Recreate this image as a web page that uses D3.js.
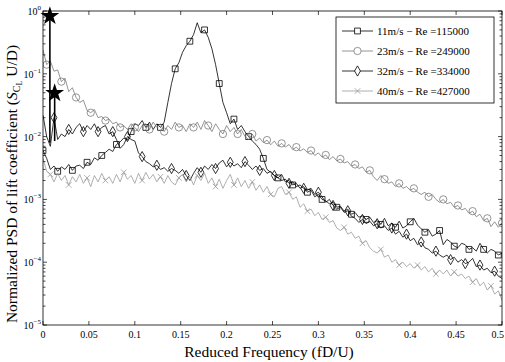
<!DOCTYPE html>
<html>
<head>
<meta charset="utf-8">
<script src="https://cdn.jsdelivr.net/npm/d3@7"></script>
<style>
  body { margin: 0; background: #fff; }
  svg { font-family: "Liberation Serif", "DejaVu Serif", serif; }
</style>
</head>
<body>
<div id="graph"></div>
<script>

    // frequency grid (fD/U), one value every 0.004
    const freq = d3.range(126).map((i) => +(i * 0.004).toFixed(3));

    const psd11 = [6.0e-3, 4.5e-3, 3.0e-3, 3.4e-3, 2.8e-3, 3.3e-3, 3.0e-3, 3.6e-3, 2.9e-3, 3.4e-3,
        3.5e-3, 3.1e-3, 3.9e-3, 3.6e-3, 4.6e-3, 4.2e-3, 5.0e-3, 5.6e-3, 6.3e-3, 5.8e-3,
        7.5e-3, 8.2e-3, 9.5e-3, 8.8e-3, 1.2e-2, 1.6e-2, 1.5e-2, 1.8e-2, 1.4e-2, 1.7e-2,
        1.3e-2, 1.6e-2, 1.4e-2, 1.7e-2, 3.5e-2, 7.0e-2, 1.2e-1, 1.5e-1, 2.2e-1, 2.8e-1,
        3.3e-1, 4.2e-1, 6.5e-1, 4.5e-1, 5.0e-1, 3.8e-1, 2.5e-1, 1.4e-1, 7.0e-2, 3.5e-2,
        2.4e-2, 1.6e-2, 1.9e-2, 1.3e-2, 1.5e-2, 1.2e-2, 1.0e-2, 8.5e-3, 7.5e-3, 6.3e-3,
        4.5e-3, 3.0e-3, 2.7e-3, 2.4e-3, 2.2e-3, 2.5e-3, 1.9e-3, 2.0e-3, 1.7e-3, 1.8e-3,
        1.5e-3, 1.6e-3, 1.3e-3, 1.4e-3, 1.1e-3, 1.2e-3, 1.0e-3, 9.5e-4, 8.5e-4, 9.0e-4,
        7.5e-4, 7.8e-4, 6.5e-4, 7.0e-4, 5.8e-4, 6.2e-4, 5.2e-4, 5.5e-4, 4.8e-4, 5.2e-4,
        4.3e-4, 4.6e-4, 4.0e-4, 5.0e-4, 3.8e-4, 4.2e-4, 3.6e-4, 4.5e-4, 3.5e-4, 3.8e-4,
        4.4e-4, 5.0e-4, 3.9e-4, 3.4e-4, 3.0e-4, 3.3e-4, 2.6e-4, 2.8e-4, 3.2e-4, 1.9e-4,
        2.3e-4, 2.1e-4, 1.8e-4, 1.7e-4, 2.0e-4, 1.9e-4, 1.6e-4, 1.7e-4, 1.5e-4, 2.0e-4,
        1.6e-4, 1.4e-4, 1.6e-4, 1.5e-4, 1.3e-4, 1.4e-4];

    const psd23 = [2.4e-1, 1.4e-1, 1.6e-1, 1.1e-1, 1.15e-1, 7.5e-2, 8.5e-2, 5.2e-2, 6.0e-2, 4.2e-2,
        3.5e-2, 3.8e-2, 2.6e-2, 2.4e-2, 2.7e-2, 2.0e-2, 2.1e-2, 1.8e-2, 1.9e-2, 1.6e-2,
        1.7e-2, 1.4e-2, 1.5e-2, 1.3e-2, 1.6e-2, 1.4e-2, 1.2e-2, 1.5e-2, 1.6e-2, 1.3e-2,
        1.7e-2, 1.4e-2, 1.6e-2, 1.2e-2, 1.5e-2, 1.3e-2, 1.7e-2, 1.4e-2, 1.5e-2, 1.2e-2,
        1.6e-2, 1.4e-2, 1.7e-2, 1.3e-2, 1.8e-2, 1.5e-2, 1.2e-2, 1.6e-2, 1.3e-2, 1.1e-2,
        1.5e-2, 1.2e-2, 1.4e-2, 1.1e-2, 1.3e-2, 1.0e-2, 9.0e-3, 1.1e-2, 8.5e-3, 9.5e-3,
        8.0e-3, 8.8e-3, 7.4e-3, 8.5e-3, 7.0e-3, 7.8e-3, 6.8e-3, 7.5e-3, 6.2e-3, 6.8e-3,
        5.9e-3, 6.4e-3, 5.6e-3, 6.0e-3, 5.0e-3, 5.5e-3, 4.7e-3, 5.1e-3, 4.3e-3, 4.8e-3,
        4.1e-3, 4.4e-3, 3.8e-3, 4.0e-3, 3.4e-3, 3.6e-3, 3.1e-3, 3.3e-3, 2.7e-3, 2.9e-3,
        2.3e-3, 2.0e-3, 2.4e-3, 2.1e-3, 1.8e-3, 1.9e-3, 1.6e-3, 1.8e-3, 1.5e-3, 1.6e-3,
        1.4e-3, 1.5e-3, 1.3e-3, 1.2e-3, 1.3e-3, 1.1e-3, 1.2e-3, 1.0e-3, 9.0e-4, 1.0e-3,
        8.5e-4, 9.0e-4, 7.5e-4, 8.0e-4, 6.8e-4, 7.2e-4, 6.0e-4, 6.5e-4, 5.3e-4, 5.8e-4,
        4.6e-4, 5.0e-4, 3.7e-4, 4.4e-4, 3.6e-4, 4.2e-4];

    const psd32 = [2.2e-2, 1.0e-2, 7.0e-3, 2.0e-2, 9.0e-3, 1.1e-2, 1.0e-2, 1.3e-2, 1.1e-2, 1.4e-2,
        1.6e-2, 1.2e-2, 1.5e-2, 1.3e-2, 1.6e-2, 1.2e-2, 1.4e-2, 1.5e-2, 1.1e-2, 1.2e-2,
        9.0e-3, 6.5e-3, 7.5e-3, 1.0e-2, 9.0e-3, 8.5e-3, 5.5e-3, 4.8e-3, 4.0e-3, 3.7e-3,
        3.3e-3, 3.5e-3, 3.0e-3, 3.2e-3, 2.8e-3, 3.1e-3, 2.9e-3, 2.6e-3, 3.0e-3, 2.4e-3,
        2.0e-3, 2.6e-3, 3.2e-3, 2.7e-3, 3.4e-3, 3.0e-3, 3.6e-3, 3.1e-3, 3.8e-3, 4.2e-3,
        3.3e-3, 3.9e-3, 3.4e-3, 3.7e-3, 3.2e-3, 4.0e-3, 3.5e-3, 3.0e-3, 3.4e-3, 2.9e-3,
        3.1e-3, 2.6e-3, 2.8e-3, 2.4e-3, 2.2e-3, 2.0e-3, 2.1e-3, 1.8e-3, 1.9e-3, 1.6e-3,
        1.7e-3, 1.5e-3, 1.4e-3, 1.5e-3, 1.2e-3, 1.3e-3, 1.1e-3, 9.0e-4, 1.0e-3, 8.0e-4,
        7.0e-4, 7.5e-4, 6.2e-4, 6.6e-4, 5.4e-4, 5.0e-4, 4.3e-4, 4.8e-4, 4.1e-4, 4.5e-4,
        3.8e-4, 4.1e-4, 3.5e-4, 3.8e-4, 3.2e-4, 3.5e-4, 2.8e-4, 3.1e-4, 2.5e-4, 2.8e-4,
        2.2e-4, 2.4e-4, 1.9e-4, 2.1e-4, 1.7e-4, 1.6e-4, 1.4e-4, 1.5e-4, 1.3e-4, 1.2e-4,
        1.3e-4, 1.1e-4, 1.2e-4, 1.0e-4, 1.1e-4, 9.5e-5, 1.0e-4, 1.15e-4, 8.5e-5, 9.0e-5,
        7.5e-5, 8.0e-5, 6.8e-5, 7.2e-5, 6.0e-5, 5.5e-5];

    const psd40 = [4.5e-3, 2.8e-3, 2.5e-3, 1.9e-3, 2.6e-3, 2.0e-3, 2.4e-3, 1.7e-3, 2.3e-3, 1.9e-3,
        2.5e-3, 1.8e-3, 2.2e-3, 1.6e-3, 2.4e-3, 1.9e-3, 2.6e-3, 2.0e-3, 2.3e-3, 1.8e-3,
        2.5e-3, 1.9e-3, 2.7e-3, 2.1e-3, 2.4e-3, 1.8e-3, 2.6e-3, 2.0e-3, 2.7e-3, 2.1e-3,
        2.5e-3, 1.9e-3, 2.3e-3, 1.8e-3, 2.4e-3, 1.9e-3, 1.7e-3, 2.2e-3, 2.5e-3, 1.9e-3,
        2.3e-3, 1.7e-3, 2.4e-3, 2.0e-3, 2.6e-3, 1.8e-3, 2.2e-3, 1.6e-3, 2.1e-3, 1.5e-3,
        2.0e-3, 2.5e-3, 1.7e-3, 2.2e-3, 1.6e-3, 2.0e-3, 1.5e-3, 1.9e-3, 1.4e-3, 1.7e-3,
        1.3e-3, 1.6e-3, 1.2e-3, 1.1e-3, 1.5e-3, 1.6e-3, 1.2e-3, 1.3e-3, 1.0e-3, 1.1e-3,
        7.5e-4, 8.5e-4, 6.5e-4, 7.0e-4, 5.5e-4, 6.2e-4, 4.8e-4, 5.2e-4, 4.3e-4, 4.6e-4,
        3.5e-4, 3.2e-4, 3.6e-4, 2.8e-4, 3.0e-4, 2.4e-4, 2.6e-4, 2.0e-4, 2.2e-4, 1.7e-4,
        1.5e-4, 1.4e-4, 1.6e-4, 1.2e-4, 1.3e-4, 1.0e-4, 1.1e-4, 9.0e-5, 1.0e-4, 8.5e-5,
        9.5e-5, 8.0e-5, 9.0e-5, 7.5e-5, 8.5e-5, 7.0e-5, 8.0e-5, 6.5e-5, 7.5e-5, 6.5e-5,
        7.5e-5, 6.0e-5, 7.0e-5, 6.0e-5, 6.5e-5, 5.5e-5, 6.0e-5, 4.8e-5, 5.5e-5, 4.2e-5,
        4.8e-5, 3.6e-5, 4.2e-5, 3.1e-5, 3.5e-5, 2.5e-5];

    // peaks marked with stars
    const starF = [0.0075, 0.0127];
    const starV = [0.86, 0.051];
    const starBase = [8.0e-3, 8.5e-3];

    const legendLabels = ["11m/s \u2212 Re =115000", "23m/s \u2212 Re =249000",
        "32m/s \u2212 Re =334000", "40m/s \u2212 Re =427000"];
    const xTicks = [0, 0.05, 0.1, 0.15, 0.2, 0.25, 0.3, 0.35, 0.4, 0.45, 0.5];
    const yExps = [0, -1, -2, -3, -4, -5];

    const w = 505;
    const h = 362;
    const padL = 43, padR = 502, padT = 11, padB = 325;

    const series = [
        { vals: psd11, color: "#000", sym: d3.symbolSquare, size: 34, every: 4, off: 0, label: legendLabels[0] },
        { vals: psd23, color: "#7a7a7a", sym: d3.symbolCircle, size: 42, every: 4, off: 1, label: legendLabels[1] },
        { vals: psd32, color: "#000", sym: d3.symbolDiamond, size: 30, every: 4, off: 3, label: legendLabels[2] },
        { vals: psd40, color: "#9a9a9a", sym: d3.symbolTimes, size: 22, every: 5, off: 2, label: legendLabels[3] }
    ];

    const svg = d3.select('#graph')
        .append('svg')
        .attr('width', w)
        .attr('height', h);

    const xScale = d3.scaleLinear()
        .domain([0, 0.5])
        .range([padL, padR]);

    const yScale = d3.scaleLog()
        .domain([1e-5, 1])
        .range([padB, padT]);

    svg.append("defs").append("clipPath").attr("id", "clip")
        .append("rect")
        .attr("x", padL).attr("y", padT)
        .attr("width", padR - padL).attr("height", padB - padT);

    const plot = svg.append("g").attr("clip-path", "url(#clip)");

    const line = d3.line()
        .x((d) => xScale(d[0]))
        .y((d) => yScale(d[1]));

    series.forEach(function (s) {
        const pts = freq.map((f, i) => [f, s.vals[i]]);
        plot.append("path")
            .attr("d", line(pts))
            .attr("fill", "none")
            .attr("stroke", s.color)
            .attr("stroke-width", 0.8)
            .attr("stroke-linejoin", "round");

        plot.selectAll(null)
            .data(pts.filter((d, i) => i % s.every == s.off))
            .enter()
            .append("path")
            .attr("d", d3.symbol(s.sym, s.size))
            .attr("transform", (d) => "translate(" + xScale(d[0]) + "," + yScale(d[1]) + ")")
            .attr("fill", "none")
            .attr("stroke", s.color)
            .attr("stroke-width", 0.8);
    });

    // star peaks with stems
    starF.forEach(function (f, i) {
        plot.append("line")
            .attr("x1", xScale(f)).attr("x2", xScale(f))
            .attr("y1", yScale(starV[i])).attr("y2", yScale(starBase[i]))
            .attr("stroke", "#000")
            .attr("stroke-width", 1.6);
    });

    svg.selectAll(".star")
        .data(starF)
        .enter()
        .append("path")
        .attr("class", "star")
        .attr("d", d3.symbol(d3.symbolStar, 110))
        .attr("transform", (d, i) => "translate(" + xScale(d) + "," + (yScale(starV[i]) + 1) + ")")
        .attr("fill", "#000");

    // axes box
    svg.append("rect")
        .attr("x", padL).attr("y", padT)
        .attr("width", padR - padL).attr("height", padB - padT)
        .attr("fill", "none")
        .attr("stroke", "#000")
        .attr("stroke-width", 0.8);

    const ticks = svg.append("g").attr("stroke", "#000").attr("stroke-width", 0.7);

    xTicks.forEach(function (t) {
        const x = xScale(t);
        ticks.append("line").attr("x1", x).attr("x2", x).attr("y1", padB).attr("y2", padB - 4);
        ticks.append("line").attr("x1", x).attr("x2", x).attr("y1", padT).attr("y2", padT + 4);
    });

    // minor and major log ticks
    for (let e = -5; e <= 0; e++) {
        for (let m = 1; m <= 9; m++) {
            const v = m * Math.pow(10, e);
            if (v > 1) break;
            const y = yScale(v);
            const len = m == 1 ? 4 : 2.5;
            ticks.append("line").attr("x1", padL).attr("x2", padL + len).attr("y1", y).attr("y2", y);
            ticks.append("line").attr("x1", padR).attr("x2", padR - len).attr("y1", y).attr("y2", y);
        }
    }

    svg.selectAll(".xlab")
        .data(xTicks)
        .enter()
        .append("text")
        .attr("class", "xlab")
        .attr("x", (d) => d == 0.5 ? w - 1 : xScale(d))
        .attr("y", padB + 13)
        .attr("text-anchor", (d) => d == 0.5 ? "end" : "middle")
        .style("font-size", "10px")
        .text((d) => d);

    const ylab = svg.selectAll(".ylab")
        .data(yExps)
        .enter()
        .append("text")
        .attr("class", "ylab")
        .attr("x", 41)
        .attr("y", (d) => yScale(Math.pow(10, d)) + 4)
        .attr("text-anchor", "end")
        .style("font-size", "10px");
    ylab.append("tspan").text("10");
    ylab.append("tspan")
        .attr("dy", -5)
        .style("font-size", "7px")
        .text((d) => d == 0 ? "0" : "\u2212" + (-d));

    svg.append("text")
        .attr("x", 269)
        .attr("y", 357)
        .attr("text-anchor", "middle")
        .style("font-size", "15.5px")
        .text("Reduced Frequency (fD/U)");

    const yTitle = svg.append("text")
        .attr("transform", "translate(17,184) rotate(-90)")
        .attr("text-anchor", "middle")
        .style("font-size", "15.5px");
    yTitle.append("tspan").text("Normalized PSD of lift coefficient (");
    yTitle.append("tspan").style("font-style", "italic").text("S");
    yTitle.append("tspan").attr("dy", 3).style("font-size", "10px").text("C");
    yTitle.append("tspan").attr("dy", 2).style("font-size", "8px").text("L");
    yTitle.append("tspan").attr("dy", -5).text(" U/D)");

    // legend
    const lg = svg.append("g").attr("transform", "translate(336,17)");
    lg.append("rect")
        .attr("width", 158).attr("height", 86)
        .attr("fill", "#fff")
        .attr("stroke", "#000")
        .attr("stroke-width", 0.8);

    const rows = lg.selectAll(".legend")
        .data(series)
        .enter().append("g")
        .attr("class", "legend")
        .attr("transform", (d, i) => "translate(0," + (14 + i * 20) + ")");

    rows.append("line")
        .attr("x1", 6).attr("x2", 37)
        .attr("stroke", (d) => d.color)
        .attr("stroke-width", 0.8);
    rows.append("path")
        .attr("d", (d) => d3.symbol(d.sym, d.size)())
        .attr("transform", "translate(21.5,0)")
        .attr("fill", "#fff")
        .attr("stroke", (d) => d.color)
        .attr("stroke-width", 0.8);
    rows.append("text")
        .attr("x", 41)
        .attr("y", 4)
        .style("font-size", "11px")
        .text((d) => d.label);

</script>
</body>
</html>
